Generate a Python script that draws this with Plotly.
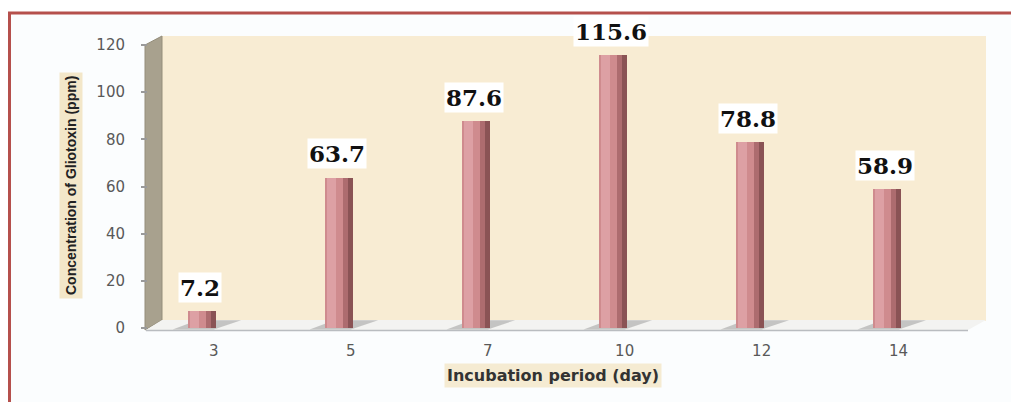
import plotly.graph_objects as go

# ---- data ----
days = ["3", "5", "7", "10", "12", "14"]
gliotoxin = [7.2, 63.7, 87.6, 115.6, 78.8, 58.9]
y_ticks = [0, 20, 40, 60, 80, 100, 120]

# the page body has an 8px margin; lay out in reference-pixel coordinates
OFF = 8
W, H = 1019 - OFF, 402 - OFF
def px(x): return (x - OFF) / W
def py(y): return 1 - (y - OFF) / H

pos = list(range(len(days)))

fig = go.Figure()

# main front face, highlight strip, dark side faces
fig.add_trace(go.Bar(x=pos, y=gliotoxin, width=0.17, offset=-0.09,
                     marker=dict(color="#cf8b8e", line=dict(width=0)),
                     hoverinfo="skip", showlegend=False))
fig.add_trace(go.Bar(x=pos, y=gliotoxin, width=0.07, offset=-0.075,
                     marker=dict(color="#dda0a4", line=dict(width=0)),
                     hoverinfo="skip", showlegend=False))
fig.add_trace(go.Bar(x=pos, y=gliotoxin, width=0.035, offset=0.045,
                     marker=dict(color="#ad6c6f", line=dict(width=0)),
                     hoverinfo="skip", showlegend=False))
fig.add_trace(go.Bar(x=pos, y=gliotoxin, width=0.035, offset=0.08,
                     marker=dict(color="#8a5355", line=dict(width=0)),
                     hoverinfo="skip", showlegend=False))

shapes = []
# frame interior
shapes.append(dict(type="rect", xref="paper", yref="paper", x0=px(10), x1=1.01, y0=-0.01, y1=py(13),
                   fillcolor="#fbfdfe", line=dict(width=0), layer="below"))
# frame border
shapes.append(dict(type="path", xref="paper", yref="paper",
                   path=f"M {px(9.5)},-0.01 L {px(9.5)},{py(13)} L 1.01,{py(13)}",
                   line=dict(color="#b5504c", width=3), layer="above"))
# back wall
shapes.append(dict(type="rect", xref="paper", yref="paper", x0=px(162), x1=px(986), y0=py(321), y1=py(36),
                   fillcolor="#f8ecd3", line=dict(width=0), layer="below"))
# side wall
shapes.append(dict(type="path", xref="paper", yref="paper",
                   path=f"M {px(145)},{py(45)} L {px(162)},{py(36)} L {px(162)},{py(320)} L {px(145)},{py(330)} Z",
                   fillcolor="#a8a18e", line=dict(color="#948d7a", width=1), layer="below"))
# floor
shapes.append(dict(type="path", xref="paper", yref="paper",
                   path=f"M {px(146)},{py(330)} L {px(162)},{py(320)} L {px(986)},{py(320)} L {px(968)},{py(330)} Z",
                   fillcolor="#f3f3f1", line=dict(width=0), layer="below"))
shapes.append(dict(type="line", xref="paper", yref="paper", x0=px(146), x1=px(968), y0=py(330.5), y1=py(330.5),
                   line=dict(color="#b9bcc0", width=1.5), layer="below"))
# bar shadows on the floor
for i in pos:
    shapes.append(dict(type="path", xref="x", yref="y",
                       path=f"M {i-0.2},-0.6 L {i+0.1},-0.6 L {i+0.3},3.3 L {i-0.02},3.3 Z",
                       fillcolor="rgba(90,90,90,0.3)", line=dict(width=0), layer="below"))

annotations = []
for i, v in zip(pos, gliotoxin):
    annotations.append(dict(x=i, y=v, xref="x", yref="y", text=f"{v:.1f}", showarrow=False,
                            xanchor="center", yanchor="middle", yshift=24, bgcolor="white",
                            font=dict(family="DejaVu Serif", size=23, color="#111111", weight="bold")))
annotations.append(dict(x=px(71), y=py(186), xref="paper", yref="paper",
                        xanchor="center", yanchor="middle",
                        text="<b>Concentration of Gliotoxin (ppm)</b>", textangle=-90, showarrow=False,
                        bgcolor="#f3e7c9", borderpad=3,
                        font=dict(family="Liberation Sans Narrow, Arial Narrow, sans-serif", size=14, color="#222222")))
annotations.append(dict(x=px(553), y=py(375), xref="paper", yref="paper",
                        xanchor="center", yanchor="middle",
                        text="<b>Incubation period (day)</b>", showarrow=False,
                        bgcolor="#f5ebd2", borderpad=2,
                        font=dict(family="DejaVu Sans", size=16, color="#333333")))

fig.update_layout(
    width=W, height=H,
    margin=dict(l=0, r=0, t=0, b=0, autoexpand=False),
    paper_bgcolor="white",
    plot_bgcolor="rgba(0,0,0,0)",
    barmode="overlay",
    bargap=0,
    showlegend=False,
    shapes=shapes,
    annotations=annotations,
    xaxis=dict(domain=[px(162), px(986)], range=[-0.2778, 5.738], anchor="y", automargin=False,
               tickmode="array", tickvals=[p + 0.1 for p in pos], ticktext=days,
               showgrid=False, zeroline=False, showline=False, ticks="",
               ticklabelstandoff=10,
               tickfont=dict(family="DejaVu Sans", size=15, color="#595959")),
    yaxis=dict(domain=[py(330), py(36)], range=[-0.848, 123.83], anchor="free", automargin=False,
               position=px(147), tickmode="array", tickvals=y_ticks,
               showgrid=False, zeroline=False, showline=False,
               ticks="outside", ticklen=6, tickcolor="#9a9a9a", tickwidth=1.5,
               ticklabelstandoff=13,
               tickfont=dict(family="DejaVu Sans", size=15, color="#595959")),
)

fig.write_html("out.html")
